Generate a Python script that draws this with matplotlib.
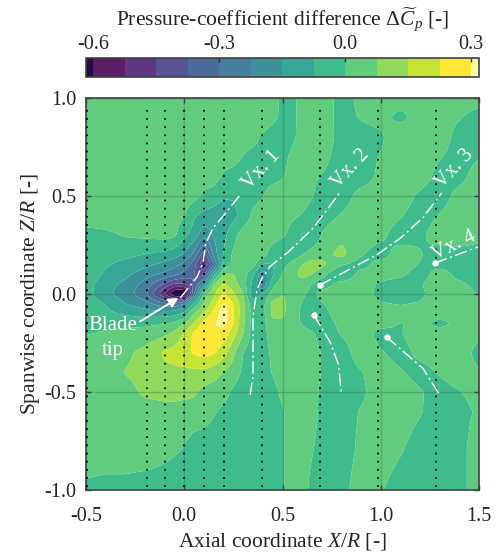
import numpy as np
import matplotlib
matplotlib.use("Agg")
import matplotlib.pyplot as plt

plt.rcParams['font.family'] = ['Liberation Serif', 'DejaVu Serif']
plt.rcParams['mathtext.fontset'] = 'custom'
plt.rcParams['mathtext.rm'] = 'Liberation Serif'
plt.rcParams['mathtext.it'] = 'Liberation Serif:italic'
plt.rcParams['mathtext.bf'] = 'Liberation Serif:bold'
plt.rcParams['axes.unicode_minus'] = False

# grid nodes of the pressure-coefficient field
x_nodes = [-.5,-.4,-.3,-.2,-.1,-.05,0,.05,.1,.15,.2,.25,.3,.35,.4,.45,.5,.6,.65,.7,.8,.9,1.0,1.1,1.2,1.3,1.4,1.5]
z_nodes = [1.0,.9,.8,.7,.6,.5,.4,.3,.2,.15,.1,.05,0,-.05,-.1,-.15,-.2,-.3,-.4,-.5,-.6,-.8,-1.0]

# field values, in hundredths, one list per Z/R row
r_p100 = [3,3,3,3,3,3,3,3,3,3,3,3,3,3,4,2,-2,0,3,3,-3,1,3,3,3,3,3,3]
r_p090 = [3,3,3,3,3,3,3,3,3,3,3,3,3,3,4,1,-2,0,3,3,-3,0,2,-3,3,3,0,-4]
r_p080 = [3,3,3,3,3,3,3,3,3,3,3,3,3,2,-2,-4,-4,1,3,5,-4,-4,-2,6,3,4,-4,-4]
r_p070 = [3,3,3,3,3,3,3,3,3,3,3,2,-1,-3,-3,-3,-2,3,3,2,-4,-4,0,3,3,0,-4,-1]
r_p060 = [3,3,3,3,3,3,3,3,3,3,-2,-3,-4,-4,-3,-3,-1,3,1,-1,-4,-4,1,3,3,-3,-3,3]
r_p050 = [3,3,3,3,3,3,3,2,-2,-4,-7,-7,-5,-3,-1,3,3,3,0,-4,-4,2,3,3,-2,-4,2,3]
r_p040 = [3,3,3,3,3,2,0,-7,-10,-11,-12,-10,-5,1,3,3,3,-1,-4,-4,0,3,3,0,-4,0,3,3]
r_p030 = [-3,-2,0,1,2,1,-6,-11,-20,-14,-10,-3,3,3,3,3,1,-9,-7,0,5,3,1,-4,-2,3,3,1]
r_p020 = [-4,-5,-6,-8,-10,-12,-16,-24,-42,-19,-7,1,4,3,3,-5,-9,-1,3,4,9,0,-4,3,0,-4,-3,-3]
r_p015 = [-4,-7,-10,-13,-17,-20,-24,-34,-52,-30,-5,1,5,3,-9,-8,-3,7,10,9,0,-4,3,3,-1,-3,-3,-3]
r_p010 = [-3,-9,-13,-19,-24,-27,-32,-37,-40,-10,8,7,3,-7,-20,-9,0,9,7,2,-9,3,3,1,-4,3,-3,-3]
r_p005 = [-5,-12,-17,-25,-38,-45,-44,-36,-20,8,15,9,3,-10,-24,-2,3,4,-1,-5,3,3,-2,-4,-1,3,1,-3]
r_z000 = [-5,-13,-19,-27,-52,-68,-72,-30,4,12,23,15,7,-13,-6,3,7,1,-3,3,3,3,-3,-4,-2,3,3,-1]
r_m005 = [-4,-8,-15,-19,-27,-27,-20,-5,7,17,30,21,9,-6,-3,9,8,-1,-6,-1,3,3,0,-1,0,3,2,1]
r_m010 = [-3,-6,-9,-11,-11,-10,-6,7,14,24,33,22,9,-3,-3,9,8,-2,-10,-3,3,3,3,2,3,3,3,3]
r_m015 = [-2,-2,-2,-2,-1,1,6,14,24,28,31,21,8,-4,-3,5,5,-1,-8,-4,1,3,2,-1,1,-3,1,3]
r_m020 = [-1,0,1,2,5,8,15,23,26,27,25,17,7,-4,-4,4,4,4,1,-4,0,3,-3,-1,3,3,3,1]
r_m030 = [3,3,5,9,15,17,19,22,24,22,17,8,-1,-4,-4,1,3,3,3,-1,-4,3,0,-3,1,3,3,-3]
r_m040 = [3,3,7,9,12,12,12,12,12,10,6,3,-2,-4,-4,0,3,3,3,-1,-4,-1,3,0,-3,0,3,0]
r_m050 = [3,3,4,8,10,10,9,8,4,3,2,-2,-4,-4,-4,-3,1,3,2,-2,-4,-2,3,3,0,-3,-1,3]
r_m060 = [3,3,3,3,3,3,3,3,2,0,-2,-4,-4,-4,-4,-4,-1,3,3,-3,-4,0,3,3,0,-4,-4,1]
r_m080 = [3,3,3,3,1,0,-1,-4,-4,-4,-4,-4,-4,-4,-4,-4,-1,3,0,-4,-4,1,3,0,-4,-4,-4,5]
r_m100 = [-2,-3,-3,-4,-4,-4,-4,-4,-4,-4,-4,-4,-4,-4,-4,-4,-1,3,-3,-4,-3,3,0,-4,-4,-4,-4,5]

# colour-bar calibration of the readings above (bar ticks -0.3, 0.0, 0.3 sit at px 219, 345, 471)
read_gain, read_offset = 1.04, 0.006

# filled-contour bands and colours from the colour bar
band_edges = [-.617,-.6,-.525,-.45,-.375,-.3,-.225,-.15,-.075,0,.075,.15,.225,.3,.319]
band_colors = ['#230a4e','#5b1e66','#5e3685','#585296','#4d6b9a','#457f9d','#3c929b','#36a795',
               '#3fbb8c','#61cc7d','#90d95b','#c6e436','#fde736','#fffb9e']

# traverse stations (dotted lines) and vortex trajectories
station_x = [-.495,-.19,-.1,0,.1,.2,.395,.69,.985,1.28]
vx1_x = [-.02,.065,.095,.11,.147,.2,.284]
vx1_z = [-.02,.087,.157,.26,.337,.40,.505]
vx2_x = [.335,.35,.35,.37,.395,.436,.53,.655,.79]
vx2_z = [-.515,-.42,-.115,.02,.08,.14,.215,.335,.515]
vx3_x = [.69,.83,.98,1.10,1.215,1.31]
vx3_z = [.045,.12,.2,.285,.39,.515]
vx4_x = [1.276,1.495]
vx4_z = [.158,.24]
low2_x = [.66,.742,.785,.80]
low2_z = [-.107,-.245,-.36,-.515]
low3_x = [1.03,1.215,1.30]
low3_z = [-.22,-.38,-.515]

W, H = 498, 552
fig = plt.figure(figsize=(W/100, H/100), dpi=100)
ax = fig.add_axes([86/W, 1-490/H, 393/W, 392/H])
cax = fig.add_axes([86/W, 1-77/H, 393/W, 19/H])

raw = np.array([r_p100,r_p090,r_p080,r_p070,r_p060,r_p050,r_p040,r_p030,r_p020,r_p015,r_p010,r_p005,
                r_z000,r_m005,r_m010,r_m015,r_m020,r_m030,r_m040,r_m050,r_m060,r_m080,r_m100], float)/100
field = read_gain*raw + read_offset

# resample the coarse table on a fine grid and soften its kinks so the bands have round outlines
xf = np.arange(-.5, 1.5001, .005)
zf = np.arange(-1, 1.0001, .005)
zn = np.array(z_nodes)[::-1]
fine = np.array([np.interp(xf, x_nodes, row) for row in field[::-1]]).T
fine = np.array([np.interp(zf, zn, col) for col in fine]).T
sig = 1.8
k = np.exp(-.5*(np.arange(-6, 7)/sig)**2)
k /= k.sum()
pad = np.pad(fine, 6, mode='edge')
pad = np.apply_along_axis(lambda v: np.convolve(v, k, mode='same'), 0, pad)
pad = np.apply_along_axis(lambda v: np.convolve(v, k, mode='same'), 1, pad)
fine = np.clip(pad[6:-6, 6:-6], -.617, .319)

cf = ax.contourf(xf, zf, fine, levels=band_edges, colors=band_colors, antialiased=True)

ax.grid(True, color='#2f5f4f', alpha=.3, lw=1)
ax.set_axisbelow(False)
for xs in station_x:
    ax.plot([xs, xs], [-.985, .97], color='black', lw=1.25, ls=(0, (1, 3.7)), zorder=4)

dash = (0, (9, 2.5, 1.5, 2.5))
for xs, zs in [(vx1_x, vx1_z), (vx2_x, vx2_z), (vx3_x, vx3_z), (vx4_x, vx4_z), (low2_x, low2_z), (low3_x, low3_z)]:
    ax.plot(xs, zs, color='white', lw=1.0, ls=dash, zorder=5)
for xs, zs in [(vx3_x, vx3_z), (vx4_x, vx4_z), (low2_x, low2_z), (low3_x, low3_z)]:
    ax.plot(xs[0], zs[0], 'o', color='white', ms=3.6, zorder=6)

ax.set_xlim(-.5, 1.5)
ax.set_ylim(-1, 1)
ax.set_xticks([-.5, 0, .5, 1, 1.5])
ax.set_xticklabels(['-0.5', '0.0', '0.5', '1.0', '1.5'])
ax.set_yticks([-1, -.5, 0, .5, 1])
ax.set_yticklabels(['-1.0', '-0.5', '0.0', '0.5', '1.0'])
ax.tick_params(direction='in', top=True, right=True, length=3.5, width=1, color='#404040',
               labelsize=14.5, labelcolor='#262626', pad=7)
ax.tick_params(axis='x', pad=12)
for s in ax.spines.values():
    s.set_color('#404040')
    s.set_linewidth(1.2)
ax.set_xlabel(r'Axial coordinate $X/R$ [-]', fontsize=15.5, color='#262626', labelpad=4)
ax.set_ylabel(r'Spanwise coordinate $Z/R$ [-]', fontsize=15.5, color='#262626', labelpad=2)

cb = fig.colorbar(cf, cax=cax, orientation='horizontal', spacing='proportional')
cb.set_ticks([-.6, -.3, 0, .3])
cb.set_ticklabels(['-0.6', '-0.3', '0.0', '0.3'])
cax.xaxis.set_ticks_position('top')
cax.tick_params(direction='in', length=3, width=1, color='#303030', labelsize=14.5, labelcolor='#262626', pad=3)
cb.outline.set_edgecolor('#404040')
cb.outline.set_linewidth(1.2)
fig.text(283/W, 1-20/H, r'Pressure-coefficient difference $\Delta\widetilde{C}_p$ [-]', ha='center', va='center',
         fontsize=15.5, color='#262626')

white = dict(color='white', fontsize=15, ha='center', va='center', zorder=7)
for label, px, py, rot in [('Vx. 1', 262, 170, 47), ('Vx. 2', 351, 169, 47), ('Vx. 3', 455, 169, 47), ('Vx. 4', 454, 246, 26)]:
    ax.text((px-86)/393*2-.5, 1-(py-98)/196, label, rotation=rot, rotation_mode='anchor', **white)
ax.text((113-86)/393*2-.5, 1-(325-98)/196, 'Blade', **white)
ax.text((113-86)/393*2-.5, 1-(350-98)/196, 'tip', **white)
ax.annotate('', xy=(-.03, -.02), xytext=(-.225, -.14), zorder=7,
            arrowprops=dict(arrowstyle='-|>,head_length=.55,head_width=.28', color='white', lw=1.4, shrinkA=0, shrinkB=0))

fig.savefig('out.png', dpi=100)
